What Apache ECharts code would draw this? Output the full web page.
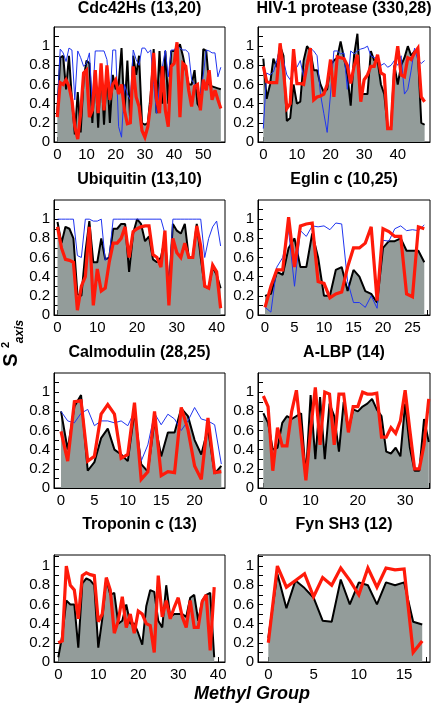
<!DOCTYPE html>
<html><head><meta charset="utf-8">
<script src="https://cdn.jsdelivr.net/npm/echarts@6/dist/echarts.min.js"></script>
<style>html,body{margin:0;padding:0;background:#fff}#c{width:433px;height:705px}</style>
</head><body><div id="c"></div>
<script>
// ---------- data ----------
const titles = ['Cdc42Hs (13,20)','HIV-1 protease (330,28)','Ubiquitin (13,10)','Eglin c (10,25)',
                'Calmodulin (28,25)','A-LBP (14)','Troponin c (13)','Fyn SH3 (12)'];

const cdcBlack = [0.3,0.88,0.9,0.55,0.9,0.45,0.08,0.52,0.1,0.65,0.85,0.82,0.2,0.75,0.15,0.8,0.18,0.75,0.2,0.7,0.55,0.6,0.98,0.3,0.85,0.2,0.9,0.7,0.9,0.2,0.18,0.2,0.5,0.97,0.3,0.95,0.4,0.95,0.4,0.95,0.95,0.98,1.02,0.9,0.75,0.6,0.6,0.75,0.4,0.35,0.97,0.95,0.6,0.58,0.57,0.56,0.55];
const cdcRed = [0.26,0.62,0.6,0.65,0.58,0.44,0.16,0.03,0.3,0.72,0.75,0.26,0.33,0.75,0.3,0.82,0.33,0.8,0.44,0.6,0.65,0.5,0.6,0.33,0.19,0.2,0.79,0.47,0.37,0.12,0.05,0.16,0.4,0.93,0.44,0.3,0.79,0.33,0.16,0.79,0.82,1.04,0.26,0.82,0.79,0.54,0.37,0.58,0.6,0.33,0.65,0.54,0.75,0.44,0.54,0.44,0.35];
const cdcBlue = [0.35,0.97,0.93,0.84,0.98,0.96,0.44,0.95,0.88,0.79,0.82,0.93,0.4,0.95,0.95,0.95,0.95,0.86,0.44,0.96,0.96,0.16,0.05,0.6,0.5,0.44,0.96,0.86,0.8,0.98,0.98,0.93,0.96,0.6,0.3,0.58,0.79,0.96,0.68,0.96,0.96,1.0,0.98,0.96,0.96,0.93,0.65,0.6,0.54,0.5,0.7,0.96,0.95,0.93,0.93,0.68,0.78];

const hivBlack = [0.87,0.45,0.6,0.87,0.78,1.0,0.9,0.22,0.25,0.6,0.4,0.42,0.85,1.0,0.95,0.75,0.75,0.6,0.52,0.55,0.8,0.85,0.88,1.05,0.88,0.7,0.38,0.9,1.13,0.5,0.5,0.5,0.95,0.85,0.85,0.6,0.5,0.15,0.15,0.8,0.6,0.8,0.88,1.0,0.9,0.95,0.93,0.2,0.18];
const hivRed = [0.79,0.63,0.62,0.62,0.62,1.03,0.75,0.35,0.4,0.97,0.61,0.61,0.6,0.8,0.98,0.44,0.47,0.48,0.5,0.6,0.86,0.47,0.89,0.88,0.87,0.8,0.61,0.79,0.91,0.42,0.65,0.7,0.79,0.79,0.91,0.72,0.7,0.14,0.14,0.75,1.0,0.7,0.68,0.88,0.86,0.93,0.98,0.47,0.42];
const hivBlue = [0.14,0.72,0.7,0.73,0.85,0.98,0.85,0.7,0.65,0.75,0.78,0.85,0.68,0.85,0.98,0.95,0.9,0.5,0.3,0.1,0.5,0.95,0.95,0.92,0.93,0.55,0.95,0.92,0.95,0.97,0.98,1.0,0.9,0.88,0.88,0.8,0.82,0.78,0.8,0.85,0.8,0.9,0.5,0.55,0.75,0.98,0.85,0.82,0.85];

const ubiBlack = [0.97,0.75,0.92,0.9,0.8,0.22,0.2,0.65,0.98,0.55,0.55,0.8,0.58,0.6,0.9,0.9,0.95,0.95,0.45,0.85,1.0,0.95,0.77,0.82,0.58,0.55,0.6,0.8,0.28,0.95,0.88,0.85,0.95,0.6,0.6,0.95,0.6,0.3,0.28,0.5,0.42,0.28];
const ubiRed = [0.92,0.7,0.58,0.57,0.55,0.05,0.3,0.4,0.92,0.1,0.48,0.25,0.28,0.55,0.75,0.75,0.8,0.92,0.6,0.87,0.9,0.92,0.93,0.93,0.63,0.6,0.5,0.88,0.1,0.8,0.65,0.6,0.75,0.6,0.6,0.93,0.72,0.3,0.28,0.52,0.45,0.07];
const ubiBlue = [1,1,1,1,1,0.62,0.6,1,1,0.98,0.98,1,0.57,0.62,1,1,1,1,1,1,1,1,1,1,1,1,1,0.85,0.28,1,1,1,1,1,1,1,1,0.6,0.8,0.92,0.98,0.72];

const eglBlack = [0.2,0.22,0.45,0.42,0.7,0.8,0.5,0.5,0.85,0.6,0.2,0.2,0.47,0.5,0.25,0.47,0.4,0.25,0.22,0.13,0.7,0.77,0.77,0.8,0.67,0.67,0.67,0.55];
const eglRed = [0.08,0.3,0.47,0.47,1.02,0.5,0.93,0.95,0.96,0.35,0.33,0.18,0.22,0.24,0.5,0.7,0.7,0.75,0.92,0.15,0.9,0.87,0.82,0.82,0.22,0.19,0.92,0.9];
const eglBlue = [0.08,0.03,0.5,0.6,0.88,0.3,0.88,0.82,0.93,0.92,0.93,0.89,0.96,0.95,0.35,0.13,0.13,0.08,0.2,0.07,0.78,0.77,0.9,0.93,0.88,0.89,0.88,0.94];

const calBlack = [0.8,0.4,0.85,0.97,0.18,0.27,0.52,0.62,0.4,0.35,0.28,0.8,0.25,0.17,0.7,0.33,0.58,0.58,0.83,0.75,0.5,0.35,0.62,0.15,0.23];
const calRed = [0.59,0.28,0.9,0.91,0.28,0.33,0.77,0.87,0.77,0.31,0.35,0.89,0.09,0.17,0.8,0.13,0.17,0.16,0.84,0.61,0.23,0.09,0.73,0.16,0.17];
const calBlue = [0.8,0.7,0.68,0.78,0.82,0.65,0.7,0.7,0.68,0.7,0.65,0.8,0.28,0.45,0.78,0.66,0.77,0.72,0.6,0.7,0.84,0.72,0.7,0.66,0.25];

const albpBlack = [0.78,0.68,0.4,0.42,0.68,0.75,0.72,0.75,0.78,0.12,0.97,0.3,0.95,0.3,0.88,0.75,0.38,0.9,0.6,0.82,0.8,0.85,0.88,0.93,0.82,0.75,0.38,0.36,0.42,0.33,0.88,0.42,0.18,0.18,0.72,0.48];
const albpRed = [0.96,0.85,0.18,0.63,0.44,0.44,0.8,1.02,0.55,0.08,0.6,1.05,0.45,1.0,0.98,0.45,0.98,0.98,0.58,0.85,0.85,1.0,0.98,0.98,0.99,0.53,0.53,0.63,0.57,0.7,1.02,0.6,0.2,0.2,0.45,0.93];

const tropBlack = [0.05,0.28,0.64,0.6,0.6,0.15,0.82,0.87,0.85,0.8,0.15,0.45,0.87,0.7,0.72,0.4,0.43,0.6,0.4,0.4,0.3,0.18,0.58,0.75,0.73,0.43,0.36,0.8,0.47,0.5,0.5,0.5,0.47,0.67,0.7,0.43,0.64,0.7,0.72,0.05];
const tropRed = [0.2,0.22,1.0,0.8,0.75,0.45,0.9,0.93,0.91,0.9,0.42,0.5,0.88,0.75,0.3,0.43,0.68,0.36,0.5,0.3,0.53,0.5,0.4,0.38,0.1,0.9,0.47,0.64,0.45,0.57,0.67,0.47,0.36,0.64,0.36,0.36,0.63,0.7,0.12,0.78];

const fynBlack = [0.25,0.92,0.56,0.85,0.77,0.67,0.43,0.42,0.86,0.6,0.83,0.8,0.6,0.83,0.8,0.83,0.42,0.39];
const fynRed = [0.2,1.0,0.78,0.85,0.92,0.68,0.88,0.8,0.98,0.85,0.7,0.98,0.78,0.98,0.96,0.97,0.1,0.22];

// tick values
const yTickLabels = [0, 0.2, 0.4, 0.6, 0.8, 1];
const yTicks = [0, 0.1, 0.2, 0.3, 0.4, 0.5, 0.6, 0.7, 0.8, 0.9, 1.0, 1.1];
const cdcXLabels = [0,10,20,30,40,50];      const cdcXTicks = [0,5,10,15,20,25,30,35,40,45,50,55];
const hivXLabels = [0,10,20,30,40];         const hivXTicks = [0,5,10,15,20,25,30,35,40,45];
const ubiXLabels = [0,10,20,30,40];         const ubiXTicks = [0,5,10,15,20,25,30,35,40];
const eglXLabels = [0,5,10,15,20,25];       const eglXTicks = [0,2.5,5,7.5,10,12.5,15,17.5,20,22.5,25,27.5];
const calXLabels = [0,5,10,15,20,25];       const calXTicks = [0,2.5,5,7.5,10,12.5,15,17.5,20,22.5];
const albpXLabels = [0,10,20,30];           const albpXTicks = [0,5,10,15,20,25,30,35];
const tropXLabels = [0,10,20,30,40];        const tropXTicks = [0,5,10,15,20,25,30,35,40];
const fynXLabels = [0,5,10,15];             const fynXTicks = [0,2.5,5,7.5,10,12.5,15,17.5];

const xLabelTitle = 'Methyl Group';

// ---------- layout ----------
const panels = [
  {black:cdcBlack, red:cdcRed, blue:cdcBlue, xl:cdcXLabels, xt:cdcXTicks, xmin:-1.13, xmax:57.43},
  {black:hivBlack, red:hivRed, blue:hivBlue, xl:hivXLabels, xt:hivXTicks, xmin:-1.58, xmax:49.6},
  {black:ubiBlack, red:ubiRed, blue:ubiBlue, xl:ubiXLabels, xt:ubiXTicks, xmin:-0.88, xmax:42.1},
  {black:eglBlack, red:eglRed, blue:eglBlue, xl:eglXLabels, xt:eglXTicks, xmin:-1.19, xmax:27.97},
  {black:calBlack, red:calRed, blue:calBlue, xl:calXLabels, xt:calXTicks, xmin:-1.05, xmax:24.55},
  {black:albpBlack, red:albpRed, blue:null, xl:albpXLabels, xt:albpXTicks, xmin:-1.13, xmax:35.26},
  {black:tropBlack, red:tropRed, blue:null, xl:tropXLabels, xt:tropXTicks, xmin:-1.08, xmax:41.7},
  {black:fynBlack, red:fynRed, blue:null, xl:fynXLabels, xt:fynXTicks, xmin:-1.14, xmax:17.86}
];
const colLeft = [54, 258], colWidth = [171, 172];
const rowTop = [27, 200, 373, 555], rowHeight = [115, 115, 115, 107], rowYMax = [1.2, 1.2, 1.2, 1.115];
const titleY = [8.5, 180, 352.5, 525];

const FONT = '"Liberation Sans", Arial, Helvetica, sans-serif';
const grids = [], xAxes = [], yAxes = [], series = [], graphics = [];
const toPts = arr => arr.map((v, i) => [i, v]);

panels.forEach((p, i) => {
  const col = i % 2, row = Math.floor(i / 2);
  grids.push({left: colLeft[col], top: rowTop[row], width: colWidth[col], height: rowHeight[row],
    containLabel: false, outerBoundsMode: 'none',
    show: true, borderColor: '#000', borderWidth: 1, backgroundColor: 'transparent'});
  xAxes.push({type: 'value', gridIndex: i, min: p.xmin, max: p.xmax, position: 'bottom',
    axisLine: {show: true, onZero: false, lineStyle: {color: '#000', width: 1}},
    axisTick: {show: true, inside: true, length: 5, customValues: p.xt, lineStyle: {color: '#000', width: 1}},
    axisLabel: {show: true, customValues: p.xl, margin: 5, color: '#000', fontSize: 15, fontFamily: FONT,
      formatter: v => String(v)},
    splitLine: {show: false}, minorTick: {show: false}});
  yAxes.push({type: 'value', gridIndex: i, min: 0, max: rowYMax[row], position: 'left',
    axisLine: {show: true, onZero: false, lineStyle: {color: '#000', width: 1}},
    axisTick: {show: true, inside: true, length: 5, customValues: yTicks, lineStyle: {color: '#000', width: 1}},
    axisLabel: {show: true, customValues: yTickLabels, margin: 4, color: '#000', fontSize: 15, fontFamily: FONT,
      formatter: v => String(v)},
    splitLine: {show: false}});
  series.push({type: 'line', xAxisIndex: i, yAxisIndex: i, data: toPts(p.black), symbol: 'none',
    lineStyle: {color: '#000', width: 2}, areaStyle: {color: '#939c9a', opacity: 1}, z: 2, silent: true});
  if (p.blue) series.push({type: 'line', xAxisIndex: i, yAxisIndex: i, data: toPts(p.blue), symbol: 'none',
    lineStyle: {color: '#2035f0', width: 1}, z: 3, silent: true});
  series.push({type: 'line', xAxisIndex: i, yAxisIndex: i, data: toPts(p.red), symbol: 'none',
    lineStyle: {color: '#ff1a0a', width: 3.2, join: 'miter', miterLimit: 3}, z: 4, silent: true});
  graphics.push({type: 'text', x: colLeft[col] + colWidth[col] / 2, y: titleY[row],
    style: {text: titles[i], font: 'bold 16px ' + FONT, fill: '#000', align: 'center', verticalAlign: 'middle'}});
});

// axis titles
graphics.push({type: 'text', x: 252, y: 694,
  style: {text: xLabelTitle, font: 'italic bold 18px ' + FONT, fill: '#000', align: 'center', verticalAlign: 'middle'}});
graphics.push({type: 'text', x: 11, y: 360, rotation: Math.PI / 2,
  style: {text: 'S', font: 'bold 20px ' + FONT, fill: '#000', align: 'center', verticalAlign: 'middle'}});
graphics.push({type: 'text', x: 6, y: 345, rotation: Math.PI / 2,
  style: {text: '2', font: 'bold 11px ' + FONT, fill: '#000', align: 'center', verticalAlign: 'middle'}});
graphics.push({type: 'text', x: 19.5, y: 331.5, rotation: Math.PI / 2,
  style: {text: 'axis', font: 'italic bold 12px ' + FONT, fill: '#000', align: 'center', verticalAlign: 'middle'}});

const chart = echarts.init(document.getElementById('c'), null, {renderer: 'canvas'});
chart.setOption({animation: false, backgroundColor: '#fff', grid: grids, xAxis: xAxes, yAxis: yAxes,
  series: series, graphic: graphics});
</script></body></html>
